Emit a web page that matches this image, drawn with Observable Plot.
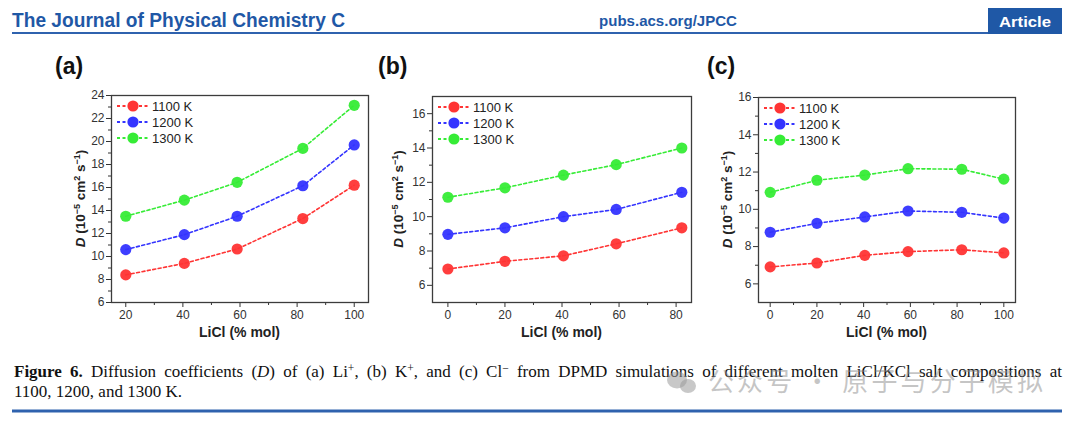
<!DOCTYPE html>
<html>
<head>
<meta charset="utf-8">
<script src="https://cdn.jsdelivr.net/npm/d3@7"></script>
<script src="https://cdn.jsdelivr.net/npm/@observablehq/plot@0.6"></script>
<style>
  html, body { margin: 0; padding: 0; background: #fff; }
  #page { position: relative; width: 1080px; height: 423px; overflow: hidden; background: #fff; font-family: "Liberation Sans", Arial, sans-serif; }
  .abs { position: absolute; }
  .plabel { position: absolute; font: bold 23px/23px "Liberation Sans", Arial, sans-serif; color: #111; }
  .cap { position: absolute; left: 14px; width: 1048px; font: 17px/20px "Liberation Serif", "Times New Roman", serif; color: #111; white-space: nowrap; }
  .cap sup { font-size: 0.68em; line-height: 0; vertical-align: 0.45em; }
</style>
</head>
<body>
<div id="page">
  <svg class="abs" style="left:0;top:0" width="1080" height="40">
    <text x="12" y="27" font-family="Liberation Sans, Arial, sans-serif" font-weight="bold" font-size="19.5" fill="#1f58a6" textLength="333" lengthAdjust="spacingAndGlyphs">The Journal of Physical Chemistry C</text>
    <text x="599" y="26" font-family="Liberation Sans, Arial, sans-serif" font-weight="bold" font-size="15" fill="#1f58a6" textLength="138" lengthAdjust="spacingAndGlyphs">pubs.acs.org/JPCC</text>
    <rect x="988" y="8" width="74" height="26" fill="#1f58a6"></rect>
    <text x="1025" y="26.5" text-anchor="middle" font-family="Liberation Sans, Arial, sans-serif" font-weight="bold" font-size="15.5" fill="#fff" textLength="52" lengthAdjust="spacingAndGlyphs">Article</text>
    <line x1="12" x2="988" y1="33" y2="33" stroke="#2f62ae" stroke-width="2"></line>
  </svg>
  <div class="plabel" style="left:55px;top:55px">(a)</div>
  <div class="plabel" style="left:378px;top:55px">(b)</div>
  <div class="plabel" style="left:707px;top:55px">(c)</div>
  <div id="pa" class="abs" style="left:50px;top:50px"></div>
  <div id="pb" class="abs" style="left:370px;top:50px"></div>
  <div id="pc" class="abs" style="left:700px;top:50px"></div>
  <div class="cap" style="top:362px;text-align:justify;text-align-last:justify;white-space:normal"><b>Figure 6.</b> Diffusion coefficients (<i>D</i>) of (a) Li<sup>+</sup>, (b) K<sup>+</sup>, and (c) Cl<sup>−</sup> from DPMD simulations of different molten LiCl/KCl salt compositions at</div>
  <div class="cap" style="top:382px">1100, 1200, and 1300 K.</div>
  <svg class="abs" style="left:0;top:350px" width="1080" height="73">
    <g fill="#9a9a9a" fill-opacity="0.55">
      <ellipse cx="677" cy="30" rx="10" ry="8.5"></ellipse>
      <ellipse cx="688" cy="36" rx="8" ry="7"></ellipse>
    </g>
    <text x="708" y="41" font-family="Noto Sans CJK SC" font-size="26" fill="#8c8c8c" fill-opacity="0.5" textLength="335" lengthAdjust="spacing">公众号 · 原子与分子模拟</text>
    <line x1="12" x2="1062" y1="61" y2="61" stroke="#2f62ae" stroke-width="3"></line>
  </svg>
</div>
<script>
// ---------- data ----------
const temps = ["1100 K", "1200 K", "1300 K"];
const seriesColors = ["#ff3434", "#3434ff", "#36ec36"];

// (a) Li+
const compA = [20, 40.5, 59, 82, 100];
const liA1100 = [8.4, 9.4, 10.65, 13.3, 16.2];
const liA1200 = [10.6, 11.9, 13.5, 16.15, 19.7];
const liA1300 = [13.5, 14.9, 16.45, 19.4, 23.15];
const xMajorA = [20, 40, 60, 80, 100];
const xMinorA = [30, 50, 70, 90];
const yMajorA = [6, 8, 10, 12, 14, 16, 18, 20, 22, 24];
const yMinorA = [7, 9, 11, 13, 15, 17, 19, 21, 23];

// (b) K+
const compB = [0, 20, 40.5, 59, 82];
const kB1100 = [6.95, 7.4, 7.72, 8.42, 9.35];
const kB1200 = [8.97, 9.35, 10.0, 10.42, 11.42];
const kB1300 = [11.13, 11.68, 12.42, 13.03, 14.0];
const xMajorB = [0, 20, 40, 60, 80];
const xMinorB = [10, 30, 50, 70];
const yMajorB = [6, 8, 10, 12, 14, 16];
const yMinorB = [7, 9, 11, 13, 15];

// (c) Cl-
const compC = [0, 20, 40.5, 59, 82, 100];
const clC1100 = [6.91, 7.12, 7.53, 7.73, 7.83, 7.66];
const clC1200 = [8.77, 9.25, 9.59, 9.91, 9.84, 9.53];
const clC1300 = [10.91, 11.56, 11.84, 12.18, 12.15, 11.62];
const xMajorC = [0, 20, 40, 60, 80, 100];
const xMinorC = [10, 30, 50, 70, 90];
const yMajorC = [6, 8, 10, 12, 14, 16];
const yMinorC = [7, 9, 11, 13, 15];

const xTitle = "LiCl (% mol)";

// ---------- drawing ----------
function makePanel(target, cfg) {
  const data = cfg.series.flatMap((ys, k) => cfg.x.map((x, i) => ({x, y: ys[i], series: temps[k]})));
  const H = 300;
  const plot = Plot.plot({
    width: cfg.width, height: H,
    marginLeft: cfg.ml, marginRight: cfg.mr, marginTop: cfg.mt, marginBottom: cfg.mb,
    x: {domain: cfg.xDomain},
    y: {domain: cfg.yDomain},
    color: {domain: temps, range: seriesColors},
    style: {fontFamily: "Liberation Sans, Arial, sans-serif", fontSize: "12px", color: "#333", background: "transparent", overflow: "visible"},
    marks: [
      Plot.axisX({ticks: cfg.xMajor, tickSize: 5, tickPadding: 3, tickFormat: d => String(d), label: null}),
      Plot.axisX({ticks: cfg.xMinor, tickSize: 3, tickFormat: () => "", label: null}),
      Plot.axisY({ticks: cfg.yMajor, tickSize: 5, tickPadding: 2, tickFormat: d => String(d), label: null}),
      Plot.axisY({ticks: cfg.yMinor, tickSize: 3, tickFormat: () => "", label: null}),
      Plot.line(data, {x: "x", y: "y", z: "series", stroke: "series", strokeWidth: 1.6, strokeDasharray: "3,2.5"}),
      Plot.dot(data, {x: "x", y: "y", fill: "series", r: 5.6, fillOpacity: 0.95}),
      Plot.frame({stroke: "#3c3c3c", strokeWidth: 1.3})
    ]
  });
  const svg = d3.select(plot);
  const fx = cfg.ml, fy = cfg.mt, fw = cfg.width - cfg.ml - cfg.mr, fh = H - cfg.mt - cfg.mb;

  // legend
  const lg = svg.append("g").attr("text-anchor", "start");
  temps.forEach((t, k) => {
    const yy = fy + 11 + k * 16;
    lg.append("line").attr("x1", fx + 6).attr("x2", fx + 38).attr("y1", yy).attr("y2", yy)
      .attr("stroke", seriesColors[k]).attr("stroke-width", 1.8).attr("stroke-dasharray", "3,2.5");
    lg.append("circle").attr("cx", fx + 22).attr("cy", yy).attr("r", 5.6).attr("fill", seriesColors[k]);
    lg.append("text").attr("x", fx + 41).attr("y", yy).attr("dy", "0.36em").attr("text-anchor", "start")
      .attr("font-size", 13).attr("fill", "#222").text(t);
  });

  // x title
  svg.append("text").attr("x", fx + fw / 2).attr("y", 287).attr("text-anchor", "middle")
    .attr("font-size", 14).attr("font-weight", "bold").attr("fill", "#222").text(xTitle);

  // y title
  const yt = svg.append("text")
    .attr("transform", `translate(${cfg.ylabX},${fy + fh / 2}) rotate(-90)`)
    .attr("text-anchor", "middle").attr("font-size", 13.5).attr("font-weight", "bold").attr("fill", "#222");
  yt.append("tspan").attr("font-style", "italic").text("D");
  yt.append("tspan").text(" (10");
  yt.append("tspan").attr("dy", -5).attr("font-size", 9).text("−5");
  yt.append("tspan").attr("dy", 5).text(" cm");
  yt.append("tspan").attr("dy", -5).attr("font-size", 9).text("2");
  yt.append("tspan").attr("dy", 5).text(" s");
  yt.append("tspan").attr("dy", -5).attr("font-size", 9).text("−1");
  yt.append("tspan").attr("dy", 5).text(")");

  document.getElementById(target).appendChild(plot);
}

makePanel("pa", {
  x: compA, series: [liA1100, liA1200, liA1300],
  xDomain: [15, 105], yDomain: [6, 24],
  xMajor: xMajorA, xMinor: xMinorA, yMajor: yMajorA, yMinor: yMinorA,
  width: 325, ml: 61, mr: 7, mt: 45, mb: 48, ylabX: 35
});
makePanel("pb", {
  x: compB, series: [kB1100, kB1200, kB1300],
  xDomain: [-5.4, 85.4], yDomain: [5, 17],
  xMajor: xMajorB, xMinor: xMinorB, yMajor: yMajorB, yMinor: yMinorB,
  width: 330, ml: 62, mr: 9, mt: 46, mb: 48, ylabX: 33
});
makePanel("pc", {
  x: compC, series: [clC1100, clC1200, clC1300],
  xDomain: [-5, 105], yDomain: [5, 16],
  xMajor: xMajorC, xMinor: xMinorC, yMajor: yMajorC, yMinor: yMinorC,
  width: 325, ml: 58, mr: 10, mt: 47, mb: 48, ylabX: 32
});
</script>
</body>
</html>
